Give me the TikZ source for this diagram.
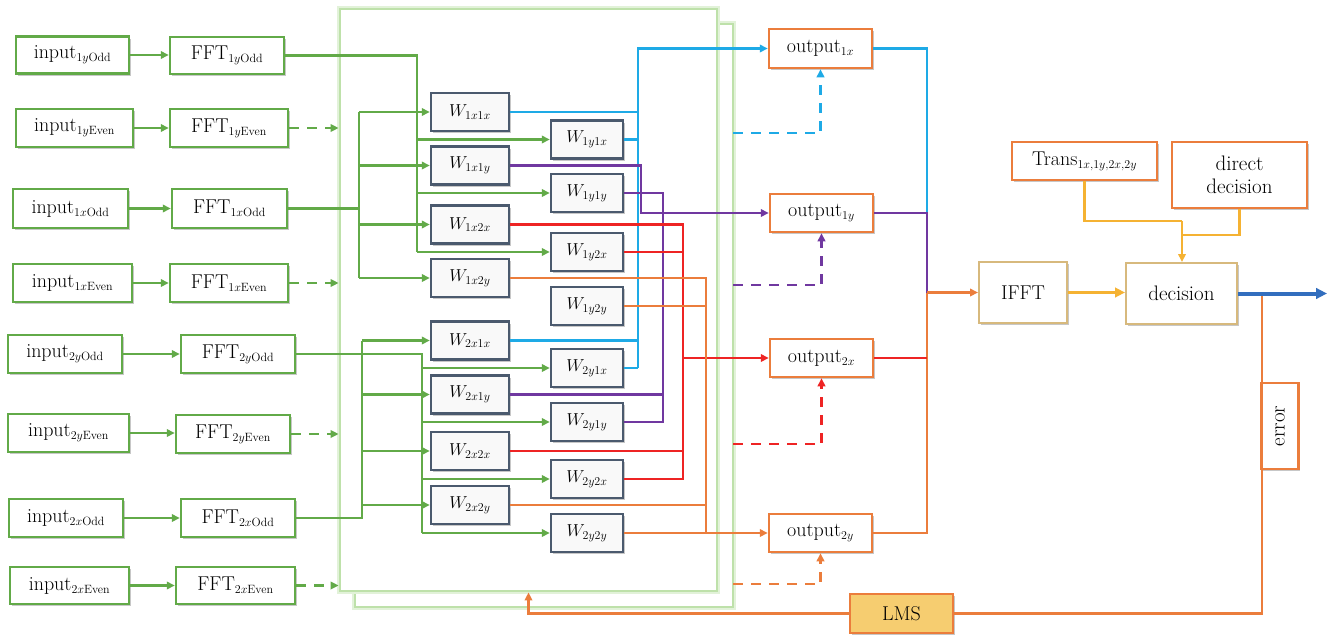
\documentclass[tikz,border=0pt]{standalone}
\usetikzlibrary{arrows.meta,shadows}
\DeclareMathSizes{20}{20}{12}{9}
\DeclareMathSizes{18}{18}{12}{8}
\DeclareMathSizes{21}{21}{13}{9}
\definecolor{cgreen}{RGB}{98,170,72}
\definecolor{cpanel}{RGB}{190,225,170}
\definecolor{cslate}{RGB}{75,90,110}
\definecolor{cblue}{RGB}{30,170,230}
\definecolor{cpurple}{RGB}{112,56,160}
\definecolor{cred}{RGB}{238,36,36}
\definecolor{corange}{RGB}{235,125,60}
\definecolor{ctan}{RGB}{215,185,125}
\definecolor{cyellow}{RGB}{245,178,50}
\definecolor{cdarkblue}{RGB}{50,110,190}
\definecolor{clms}{RGB}{246,205,112}
\tikzset{
  basebox/.style={rectangle, inner sep=0pt, line width=2.5pt, fill=white,
    font=\fontsize{20}{24}\selectfont,
    drop shadow={shadow xshift=1.5pt, shadow yshift=-2pt, opacity=0.22, fill=black}},
  gbox/.style={basebox, draw=cgreen},
  wboxa/.style={basebox, draw=cslate, fill=gray!5, font=\fontsize{18}{21}\selectfont,
    minimum width=78pt, minimum height=38pt},
  wboxb/.style={wboxa, minimum width=72pt},
  obox/.style={basebox, draw=corange},
  tbox/.style={basebox, draw=ctan, line width=2pt},
  panel/.style={draw=cpanel, line width=2.8pt, fill=white, inner sep=0pt,
    preaction={draw=cpanel!45, line width=5.5pt}},
  wire/.style={line width=2.6pt},
  tipa/.style={-{Triangle[length=8pt,width=7.5pt]}},
  dsh/.style={dash pattern=on 10pt off 8pt},
  gw/.style={wire, draw=cgreen},
  bw/.style={wire, draw=cblue},
  pw/.style={wire, draw=cpurple},
  rw/.style={wire, draw=cred},
  ow/.style={wire, draw=corange},
  yw/.style={wire, draw=cyellow},
}
\begin{document}
\begin{tikzpicture}[x=1pt,y=-1pt]
\useasboundingbox (0,0) rectangle (1331,637);

% panels
\node[panel, minimum width=378pt, minimum height=583pt] (back) at (544,315.5) {};
\node[panel, minimum width=377pt, minimum height=582pt] (front) at (528.5,300) {};

% inputs and FFTs
\node[gbox, minimum width=113pt, minimum height=37pt] (in1yo) at (72.5,55) {input$_{1y\mathrm{Odd}}$};
\node[gbox, minimum width=114pt, minimum height=37pt] (fft1yo) at (227,55.5) {FFT$_{1y\mathrm{Odd}}$};
\node[gbox, minimum width=117pt, minimum height=38pt] (in1ye) at (74.5,128) {input$_{1y\mathrm{Even}}$};
\node[gbox, minimum width=118pt, minimum height=38pt] (fft1ye) at (229,128) {FFT$_{1y\mathrm{Even}}$};
\node[gbox, minimum width=115pt, minimum height=39pt] (in1xo) at (70.5,208.5) {input$_{1x\mathrm{Odd}}$};
\node[gbox, minimum width=115pt, minimum height=39pt] (fft1xo) at (229.5,208.5) {FFT$_{1x\mathrm{Odd}}$};
\node[gbox, minimum width=119pt, minimum height=38pt] (in1xe) at (72.5,283) {input$_{1x\mathrm{Even}}$};
\node[gbox, minimum width=118pt, minimum height=38pt] (fft1xe) at (229,283) {FFT$_{1x\mathrm{Even}}$};
\node[gbox, minimum width=114pt, minimum height=38pt] (in2yo) at (65,354) {input$_{2y\mathrm{Odd}}$};
\node[gbox, minimum width=114pt, minimum height=38pt] (fft2yo) at (238,354) {FFT$_{2y\mathrm{Odd}}$};
\node[gbox, minimum width=121pt, minimum height=38pt] (in2ye) at (68.5,433) {input$_{2y\mathrm{Even}}$};
\node[gbox, minimum width=114pt, minimum height=38pt] (fft2ye) at (233,434) {FFT$_{2y\mathrm{Even}}$};
\node[gbox, minimum width=114pt, minimum height=38pt] (in2xo) at (66,518) {input$_{2x\mathrm{Odd}}$};
\node[gbox, minimum width=114pt, minimum height=38pt] (fft2xo) at (238,518) {FFT$_{2x\mathrm{Odd}}$};
\node[gbox, minimum width=119pt, minimum height=37pt] (in2xe) at (69.5,585.5) {input$_{2x\mathrm{Even}}$};
\node[gbox, minimum width=119pt, minimum height=37pt] (fft2xe) at (235.5,585.5) {FFT$_{2x\mathrm{Even}}$};

% W boxes, left column
\node[wboxa] (w1x1x) at (470,112) {$W_{1x1x}$};
\node[wboxa] (w1x1y) at (470,165.5) {$W_{1x1y}$};
\node[wboxa] (w1x2x) at (470,224.5) {$W_{1x2x}$};
\node[wboxa] (w1x2y) at (470,278) {$W_{1x2y}$};
\node[wboxa] (w2x1x) at (470,340.5) {$W_{2x1x}$};
\node[wboxa] (w2x1y) at (470,394.5) {$W_{2x1y}$};
\node[wboxa] (w2x2x) at (470,451) {$W_{2x2x}$};
\node[wboxa] (w2x2y) at (470,505) {$W_{2x2y}$};
% W boxes, right column
\node[wboxb] (w1y1x) at (587,139.5) {$W_{1y1x}$};
\node[wboxb] (w1y1y) at (587,193) {$W_{1y1y}$};
\node[wboxb] (w1y2x) at (587,252) {$W_{1y2x}$};
\node[wboxb] (w1y2y) at (587,306) {$W_{1y2y}$};
\node[wboxb] (w2y1x) at (587,368) {$W_{2y1x}$};
\node[wboxb] (w2y1y) at (587,422) {$W_{2y1y}$};
\node[wboxb] (w2y2x) at (587,479) {$W_{2y2x}$};
\node[wboxb] (w2y2y) at (587,533) {$W_{2y2y}$};

% outputs
\node[obox, minimum width=103pt, minimum height=39pt] (out1x) at (820.5,48.5) {output$_{1x}$};
\node[obox, minimum width=103pt, minimum height=38pt] (out1y) at (821.5,213) {output$_{1y}$};
\node[obox, minimum width=103pt, minimum height=38pt] (out2x) at (821.5,358) {output$_{2x}$};
\node[obox, minimum width=103pt, minimum height=38pt] (out2y) at (820.5,533) {output$_{2y}$};

% right part
\node[tbox, minimum width=88pt, minimum height=61pt] (ifft) at (1023,292.5) {IFFT};
\node[tbox, minimum width=111pt, minimum height=61pt, font=\fontsize{21}{24}\selectfont] (dec) at (1181.5,293.5) {decision};
\node[obox, minimum width=145pt, minimum height=38pt] (trans) at (1084.5,161) {Trans$_{1x,1y,2x,2y}$};
\node[obox, minimum width=135pt, minimum height=66pt, align=center, font=\fontsize{21}{23}\selectfont] (dd) at (1239.5,175) {direct\\decision};
\node[obox, fill=clms, minimum width=103pt, minimum height=39pt] (lms) at (901.5,613.5) {LMS};

% input -> FFT
\foreach \a/\b in {in1yo/fft1yo,in1ye/fft1ye,in1xo/fft1xo,in1xe/fft1xe,in2yo/fft2yo,in2ye/fft2ye,in2xo/fft2xo,in2xe/fft2xe}
  \draw[gw,tipa] (\a.east) -- (\a.east -| \b.west);
% FFT even -> panel (dashed)
\foreach \b in {fft1ye,fft1xe,fft2ye,fft2xe}
  \draw[gw,tipa,dsh] (\b.east) -- (\b.east -| front.west);

% buses
\coordinate (va) at (417,0);
\coordinate (vb) at (359,0);
\coordinate (vc) at (422,0);
\coordinate (vd) at (362,0);
\draw[gw] (fft1yo.east) -- (va |- fft1yo.east) -- (va |- w1y2x.west);
\foreach \n in {w1y1x,w1y1y,w1y2x} \draw[gw,tipa] (va |- \n.west) -- (\n.west);
\draw[gw] (fft1xo.east) -- (vb |- fft1xo.east);
\draw[gw] (vb |- w1x1x.west) -- (vb |- w1x2y.west);
\foreach \n in {w1x1x,w1x1y,w1x2x,w1x2y} \draw[gw,tipa] (vb |- \n.west) -- (\n.west);
\draw[gw] (fft2yo.east) -- (vc |- fft2yo.east) -- (vc |- w2y2y.west);
\foreach \n in {w2y1x,w2y1y,w2y2x,w2y2y} \draw[gw,tipa] (vc |- \n.west) -- (\n.west);
\draw[gw] (fft2xo.east) -- (vd |- fft2xo.east) -- (vd |- w2x1x.west);
\foreach \n in {w2x1x,w2x1y,w2x2x,w2x2y} \draw[gw,tipa] (vd |- \n.west) -- (\n.west);

% W outputs
\coordinate (bx) at (638,0);
\coordinate (px1) at (641,0);
\coordinate (px2) at (663,0);
\coordinate (rx) at (683,0);
\coordinate (ox) at (706,0);
\foreach \n in {w1x1x,w1y1x,w2x1x,w2y1x} \draw[bw] (\n.east) -- (bx |- \n.east);
\draw[bw,tipa] (bx |- w2y1x.east) -- (bx |- out1x.west) -- (out1x.west);
\draw[pw] (w1y1y.east) -- (px2 |- w1y1y.east) -- (px2 |- w2y1y.east) -- (w2y1y.east);
\draw[pw] (w2x1y.east) -- (px2 |- w2x1y.east);
\draw[pw,tipa] (w1x1y.east) -| (px1 |- out1y.west) -- (out1y.west);
\draw[rw] (w1x2x.east) -- (rx |- w1x2x.east) -- (rx |- w2y2x.east) -- (w2y2x.east);
\draw[rw] (w1y2x.east) -- (rx |- w1y2x.east);
\draw[rw] (w2x2x.east) -- (rx |- w2x2x.east);
\draw[rw,tipa] (rx |- out2x.west) -- (out2x.west);
\draw[ow] (w1x2y.east) -- (ox |- w1x2y.east) -- (ox |- out2y.west);
\draw[ow] (w1y2y.east) -- (ox |- w1y2y.east);
\draw[ow] (w2x2y.east) -- (ox |- w2x2y.east);
\draw[ow,tipa] (w2y2y.east) -- (out2y.west);

% dashed feeds from the back panel
\coordinate (f1) at (733,133);
\coordinate (f2) at (733,285);
\coordinate (f3) at (733,444);
\coordinate (f4) at (733,584);
\draw[bw,tipa,dsh] (f1) -| (out1x.south);
\draw[pw,tipa,dsh] (f2) -| (out1y.south);
\draw[rw,tipa,dsh] (f3) -| (out2x.south);
\draw[ow,tipa,dsh] (f4) -| (out2y.south);

% outputs -> IFFT
\coordinate (jx) at (927,0);
\draw[ow] (out2y.east) -- (jx |- out2y.east) -- (jx |- ifft.west);
\draw[rw] (out2x.east) -- (jx |- out2x.east);
\draw[bw] (out1x.east) -- (jx |- out1x.east) -- (jx |- out1y.east);
\draw[pw] (out1y.east) -- (jx |- out1y.east) -- (jx |- ifft.west);
\draw[ow,tipa] (jx |- ifft.west) -- (ifft.west);

% decision part
\draw[yw, line width=3.8pt, -{Triangle[length=10pt,width=9.5pt]}] (ifft.east) -- (ifft.east -| dec.west);
\coordinate (yj) at (1182,221);
\coordinate (yk) at (1182,235);
\draw[yw] (trans.south) |- (yj);
\draw[yw] (dd.south) |- (yk);
\draw[yw,tipa] (yj) -- (yj |- dec.north);

% error / LMS feedback
\coordinate (ej) at (1262,293.5);
\draw[ow] (ej) -- (ej |- lms.east) -- (lms.east);
\draw[ow,tipa] (lms.west) -| (front.south);
\coordinate (oe) at (1327,293.5);
\draw[line width=4pt, draw=cdarkblue, -{Triangle[length=11pt,width=10.5pt]}] (dec.east) -- (oe);
\node[obox, minimum width=37pt, minimum height=86pt] (err) at (1280,426) {};
\node[rotate=90, font=\fontsize{21}{24}\selectfont, inner sep=0pt] (errt) at (err.center) {error};
\end{tikzpicture}
\end{document}
